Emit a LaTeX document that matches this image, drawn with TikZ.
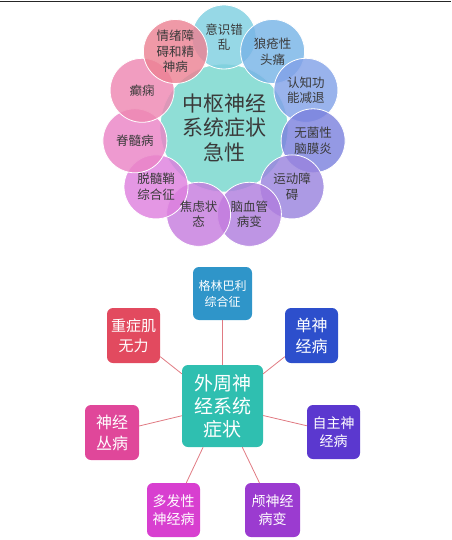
\documentclass[tikz,border=0pt]{standalone}
\usepackage{fontspec}
\setmainfont{Noto Sans CJK SC}
\definecolor{cCenter}{HTML}{8FDED6}
\definecolor{s1}{HTML}{7FCFE0}
\definecolor{s2}{HTML}{78B4E6}
\definecolor{s3}{HTML}{82A2E8}
\definecolor{s4}{HTML}{7C82DE}
\definecolor{s5}{HTML}{9A84DE}
\definecolor{s6}{HTML}{B07EDE}
\definecolor{s7}{HTML}{C67CDE}
\definecolor{s8}{HTML}{DE80DE}
\definecolor{s9}{HTML}{EA84C6}
\definecolor{s10}{HTML}{EE88B2}
\definecolor{s11}{HTML}{EC8294}
\definecolor{bCenter}{HTML}{2FBFB0}
\definecolor{bGuillain}{HTML}{2F95C9}
\definecolor{bMyas}{HTML}{E24A5F}
\definecolor{bMono}{HTML}{2D4FCC}
\definecolor{bPlexus}{HTML}{E0479A}
\definecolor{bAuto}{HTML}{5B38CF}
\definecolor{bPoly}{HTML}{D83FD0}
\definecolor{bCranial}{HTML}{9B3BD0}
\definecolor{linkc}{HTML}{E07A82}
\definecolor{txt}{HTML}{3A3A3A}
\tikzset{
  sat/.style={circle, minimum size=64pt, inner sep=0pt, draw=white, line width=0.8pt,
    fill=#1, fill opacity=0.82},
  sattext/.style={text=txt, align=center, inner sep=0pt,
    font=\fontsize{12.5}{15.5}\selectfont},
  core/.style={circle, minimum size=128pt, inner sep=0pt, fill=cCenter, draw=white, line width=0.8pt,
    text=txt, align=center, font=\fontsize{21}{24.5}\selectfont},
  pbox/.style={rounded corners=6pt, fill=#1, text=white, align=center, inner sep=0pt,
    minimum width=54pt, minimum height=54pt},
  link/.style={draw=linkc, line width=0.8pt}
}
\begin{document}
\begin{tikzpicture}[x=1pt,y=-1pt]
\useasboundingbox (0,0) rectangle (451,540);
\coordinate (tl) at (0,1.2);
\coordinate (tr) at (451,1.2);
\draw[line width=1.3pt, black!85] (tl) -- (tr);

% ---- top: central nervous system ----
\node[core] (cns) at (224,128) {};
\node[sat=s1]  (a1)  at (224,37)    {};
\node[sat=s2]  (a2)  at (272.6,51.5) {};
\node[sat=s3]  (a3)  at (305.9,90.3) {};
\node[sat=s4]  (a4)  at (313.1,140.8) {};
\node[sat=s5]  (a5)  at (292.0,186.9) {};
\node[sat=s6]  (a6)  at (249.4,214.3) {};
\node[sat=s7]  (a7)  at (198.6,214.3) {};
\node[sat=s8]  (a8)  at (156.0,186.9) {};
\node[sat=s9]  (a9)  at (134.9,140.8) {};
\node[sat=s10] (a10) at (142.1,90.3) {};
\node[sat=s11] (a11) at (175.4,51.5) {};

\node[core, fill=none, draw=none] (cnst) at (cns) {中枢神经\\系统症状\\急性};
\node[sattext] (t1)  at (a1)  {意识错\\乱};
\node[sattext] (t2)  at (a2)  {狼疮性\\头痛};
\node[sattext] (t3)  at (a3)  {认知功\\能减退};
\node[sattext] (t4)  at (a4)  {无菌性\\脑膜炎};
\node[sattext] (t5)  at (a5)  {运动障\\碍};
\node[sattext] (t6)  at (a6)  {脑血管\\病变};
\node[sattext] (t7)  at (a7)  {焦虑状\\态};
\node[sattext] (t8)  at (a8)  {脱髓鞘\\综合征};
\node[sattext] (t9)  at (a9)  {脊髓病};
\node[sattext] (t10) at (a10) {癫痫};
\node[sattext] (t11) at (a11) {情绪障\\碍和精\\神病};

% ---- bottom: peripheral nervous system ----
\node[pbox=bCenter, minimum width=81pt, minimum height=82pt,
  font=\fontsize{19}{23}\selectfont] (pns) at (222.5,406) {外周神\\经系统\\症状};
\node[pbox=bGuillain, minimum width=59pt, minimum height=53pt,
  font=\fontsize{12}{16}\selectfont] (gbs) at (222.5,293.5) {格林巴利\\综合征};
\node[pbox=bMyas, minimum width=53pt, minimum height=55pt,
  font=\fontsize{15}{20}\selectfont] (mg) at (133.5,335.5) {重症肌\\无力};
\node[pbox=bMono, minimum width=53pt, minimum height=55pt,
  font=\fontsize{16}{21}\selectfont] (mono) at (311.5,335.5) {单神\\经病};
\node[pbox=bPlexus, minimum width=54pt, minimum height=55pt,
  font=\fontsize{16}{21}\selectfont] (plex) at (112,432.5) {神经\\丛病};
\node[pbox=bAuto, minimum width=53pt, minimum height=54pt,
  font=\fontsize{14}{18.5}\selectfont] (auto) at (333.5,432) {自主神\\经病};
\node[pbox=bPoly, minimum width=53pt, minimum height=54pt,
  font=\fontsize{14}{18.5}\selectfont] (poly) at (173.5,510) {多发性\\神经病};
\node[pbox=bCranial, minimum width=55pt, minimum height=54pt,
  font=\fontsize{14}{18.5}\selectfont] (cran) at (272.5,510) {颅神经\\病变};

\draw[link] (pns) -- (gbs);
\draw[link] (pns) -- (mg);
\draw[link] (pns) -- (mono);
\draw[link] (pns) -- (plex);
\draw[link] (pns) -- (auto);
\draw[link] (pns) -- (poly);
\draw[link] (pns) -- (cran);
\end{tikzpicture}
\end{document}
